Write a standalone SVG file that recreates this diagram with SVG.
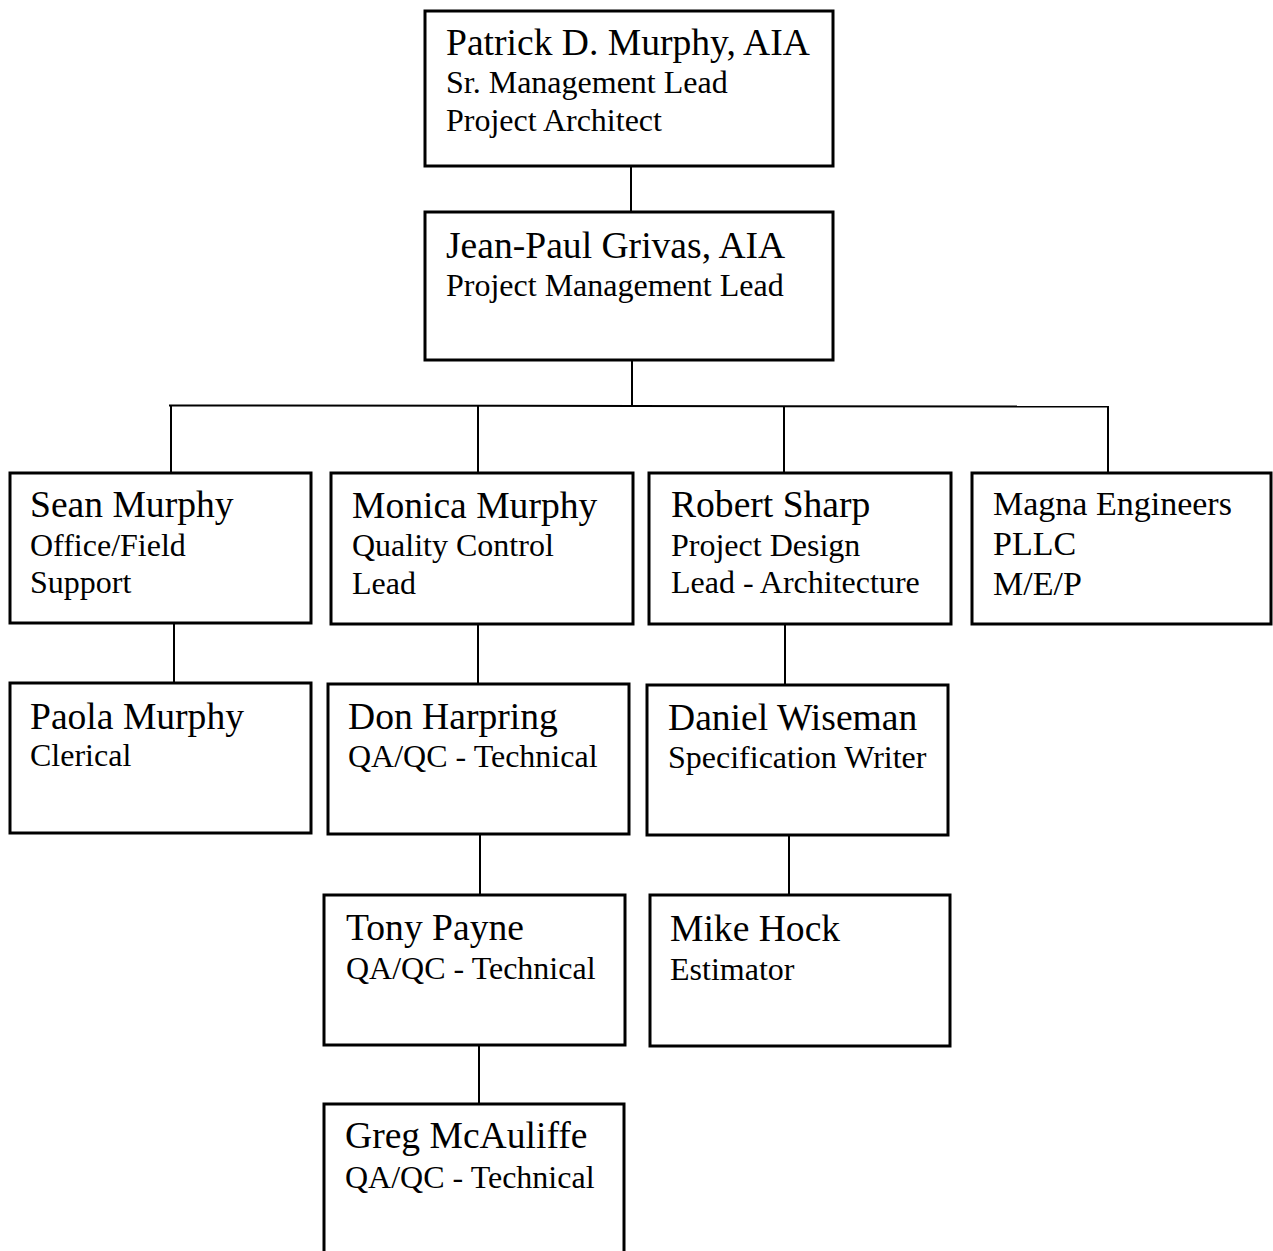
<svg xmlns="http://www.w3.org/2000/svg" width="1273" height="1251" viewBox="0 0 1273 1251">
<style>
.box{fill:#fff;stroke:#000;stroke-width:3}
.con line{stroke:#000;stroke-width:2}
text{font-family:"Liberation Serif","Times New Roman",serif;fill:#000}
.n{font-size:37.6px}
.s{font-size:32px}
.m{font-size:34px}
</style>
<rect width="1273" height="1251" fill="#fff"/>
<g id="connectors" class="con">
<line x1="631" y1="166" x2="631" y2="211"/>
<line x1="632" y1="360" x2="632" y2="405"/>
<line x1="169" y1="405.5" x2="1109" y2="406.5"/>
<line x1="171" y1="405" x2="171" y2="472"/>
<line x1="478" y1="406" x2="478" y2="472"/>
<line x1="784" y1="406" x2="784" y2="472"/>
<line x1="1108" y1="406" x2="1108" y2="472"/>
<line x1="174" y1="624" x2="174" y2="682"/>
<line x1="478" y1="625" x2="478" y2="683"/>
<line x1="785" y1="625" x2="785" y2="684"/>
<line x1="480" y1="835" x2="480" y2="894"/>
<line x1="789" y1="836" x2="789" y2="894"/>
<line x1="479" y1="1046" x2="479" y2="1103"/>
</g>
<g id="patrick">
<rect class="box" x="425" y="11" width="408" height="155"/>
<text class="n" x="446" y="55">Patrick D. Murphy, AIA</text>
<text class="s" x="446" y="93">Sr. Management Lead</text>
<text class="s" x="446" y="131">Project Architect</text>
</g>
<g id="jeanpaul">
<rect class="box" x="425" y="212" width="408" height="148"/>
<text class="n" x="446" y="258">Jean-Paul Grivas, AIA</text>
<text class="s" x="446" y="296">Project Management Lead</text>
</g>
<g id="sean">
<rect class="box" x="10" y="473" width="301" height="150"/>
<text class="n" x="30" y="517">Sean Murphy</text>
<text class="s" x="30" y="556">Office/Field</text>
<text class="s" x="30" y="593">Support</text>
</g>
<g id="monica">
<rect class="box" x="331" y="473" width="302" height="151"/>
<text class="n" x="352" y="518">Monica Murphy</text>
<text class="s" x="352" y="556">Quality Control</text>
<text class="s" x="352" y="594">Lead</text>
</g>
<g id="robert">
<rect class="box" x="649" y="473" width="302" height="151"/>
<text class="n" x="671" y="517">Robert Sharp</text>
<text class="s" x="671" y="556">Project Design</text>
<text class="s" x="671" y="593">Lead - Architecture</text>
</g>
<g id="magna">
<rect class="box" x="972" y="473" width="299" height="151"/>
<text class="m" x="993" y="515">Magna Engineers</text>
<text class="m" x="993" y="555">PLLC</text>
<text class="m" x="993" y="595">M/E/P</text>
</g>
<g id="paola">
<rect class="box" x="10" y="683" width="301" height="150"/>
<text class="n" x="30" y="729">Paola Murphy</text>
<text class="s" x="30" y="766">Clerical</text>
</g>
<g id="don">
<rect class="box" x="328" y="684" width="301" height="150"/>
<text class="n" x="348" y="729">Don Harpring</text>
<text class="s" x="348" y="767">QA/QC - Technical</text>
</g>
<g id="daniel">
<rect class="box" x="647" y="685" width="301" height="150"/>
<text class="n" x="668" y="730">Daniel Wiseman</text>
<text class="s" x="668" y="768">Specification Writer</text>
</g>
<g id="tony">
<rect class="box" x="324" y="895" width="301" height="150"/>
<text class="n" x="346" y="940">Tony Payne</text>
<text class="s" x="346" y="979">QA/QC - Technical</text>
</g>
<g id="mike">
<rect class="box" x="650" y="895" width="300" height="151"/>
<text class="n" x="670" y="941">Mike Hock</text>
<text class="s" x="670" y="980">Estimator</text>
</g>
<g id="greg">
<rect class="box" x="324" y="1104" width="300" height="160"/>
<text class="n" x="345" y="1148">Greg McAuliffe</text>
<text class="s" x="345" y="1188">QA/QC - Technical</text>
</g>
</svg>
